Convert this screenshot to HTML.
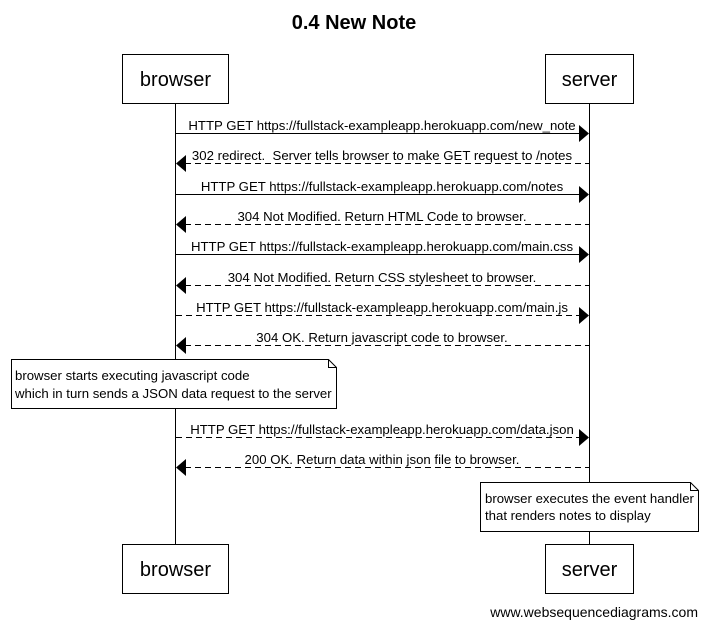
<!DOCTYPE html>
<html><head><meta charset="utf-8"><style>
html,body{margin:0;padding:0;background:#fff;}
svg{display:block;}
text{font-family:"Liberation Sans",Arial,sans-serif;fill:#000;}
</style></head><body>
<svg width="708" height="627" viewBox="0 0 708 627" xmlns="http://www.w3.org/2000/svg">
<text x="354" y="29" font-size="20" font-weight="bold" text-anchor="middle">0.4 New Note</text>
<!-- lifelines -->
<line x1="175.5" y1="103" x2="175.5" y2="545" stroke="#000" stroke-width="1"/>
<line x1="589.5" y1="103" x2="589.5" y2="545" stroke="#000" stroke-width="1"/>
<!-- top boxes -->
<rect x="122.5" y="54.5" width="106" height="49" fill="#fff" stroke="#000"/>
<text x="175.5" y="86" font-size="20" text-anchor="middle">browser</text>
<rect x="545.5" y="54.5" width="88" height="49" fill="#fff" stroke="#000"/>
<text x="589.5" y="86" font-size="20" text-anchor="middle">server</text>
<!-- bottom boxes -->
<rect x="122.5" y="544.5" width="106" height="49" fill="#fff" stroke="#000"/>
<text x="175.5" y="576" font-size="20" text-anchor="middle">browser</text>
<rect x="545.5" y="544.5" width="88" height="49" fill="#fff" stroke="#000"/>
<text x="589.5" y="576" font-size="20" text-anchor="middle">server</text>

<g font-size="13.2" text-anchor="middle">
<line x1="176" y1="133.5" x2="580" y2="133.5" stroke="#000"/>
<polygon points="579,125 589,133.5 579,142" fill="#000"/>
<text x="382" y="130">HTTP GET https://fullstack-exampleapp.herokuapp.com/new_note</text>

<line x1="185" y1="163.5" x2="589" y2="163.5" stroke="#000" stroke-dasharray="6,4"/>
<polygon points="186,155 176,163.5 186,172" fill="#000"/>
<text x="382" y="160">302 redirect.&#160; Server tells browser to make GET request to /notes</text>

<line x1="176" y1="194.5" x2="580" y2="194.5" stroke="#000"/>
<polygon points="579,186 589,194.5 579,203" fill="#000"/>
<text x="382" y="191">HTTP GET https://fullstack-exampleapp.herokuapp.com/notes</text>

<line x1="185" y1="224.5" x2="589" y2="224.5" stroke="#000" stroke-dasharray="6,4"/>
<polygon points="186,216 176,224.5 186,233" fill="#000"/>
<text x="382" y="221">304 Not Modified. Return HTML Code to browser.</text>

<line x1="176" y1="254.5" x2="580" y2="254.5" stroke="#000"/>
<polygon points="579,246 589,254.5 579,263" fill="#000"/>
<text x="382" y="251">HTTP GET https://fullstack-exampleapp.herokuapp.com/main.css</text>

<line x1="185" y1="285.5" x2="589" y2="285.5" stroke="#000" stroke-dasharray="6,4"/>
<polygon points="186,277 176,285.5 186,294" fill="#000"/>
<text x="382" y="282">304 Not Modified. Return CSS stylesheet to browser.</text>

<line x1="176" y1="315.5" x2="580" y2="315.5" stroke="#000" stroke-dasharray="6,4"/>
<polygon points="579,307 589,315.5 579,324" fill="#000"/>
<text x="382" y="312">HTTP GET https://fullstack-exampleapp.herokuapp.com/main.js</text>

<line x1="185" y1="345.5" x2="589" y2="345.5" stroke="#000" stroke-dasharray="6,4"/>
<polygon points="186,337 176,345.5 186,354" fill="#000"/>
<text x="382" y="342">304 OK. Return javascript code to browser.</text>

<line x1="176" y1="437.5" x2="580" y2="437.5" stroke="#000" stroke-dasharray="6,4"/>
<polygon points="579,429 589,437.5 579,446" fill="#000"/>
<text x="382" y="434">HTTP GET https://fullstack-exampleapp.herokuapp.com/data.json</text>

<line x1="185" y1="467.5" x2="589" y2="467.5" stroke="#000" stroke-dasharray="6,4"/>
<polygon points="186,459 176,467.5 186,476" fill="#000"/>
<text x="382" y="464">200 OK. Return data within json file to browser.</text>
</g>

<path d="M11.5,359.5 H328.5 L336.5,367.5 V408.5 H11.5 Z" fill="#fff" stroke="#000"/>
<path d="M328.5,359.5 V367.5 H336.5" fill="none" stroke="#000"/>
<text x="15" y="380" font-size="13.2">browser starts executing javascript code</text>
<text x="15" y="398" font-size="13.2">which in turn sends a JSON data request to the server</text>

<path d="M480.5,482.5 H690.5 L698.5,490.5 V531.5 H480.5 Z" fill="#fff" stroke="#000"/>
<path d="M690.5,482.5 V490.5 H698.5" fill="none" stroke="#000"/>
<text x="485" y="503" font-size="13.2">browser executes the event handler</text>
<text x="485" y="520" font-size="13.2">that renders notes to display</text>

<text x="698" y="617" font-size="14" text-anchor="end">www.websequencediagrams.com</text>
</svg>
</body></html>
